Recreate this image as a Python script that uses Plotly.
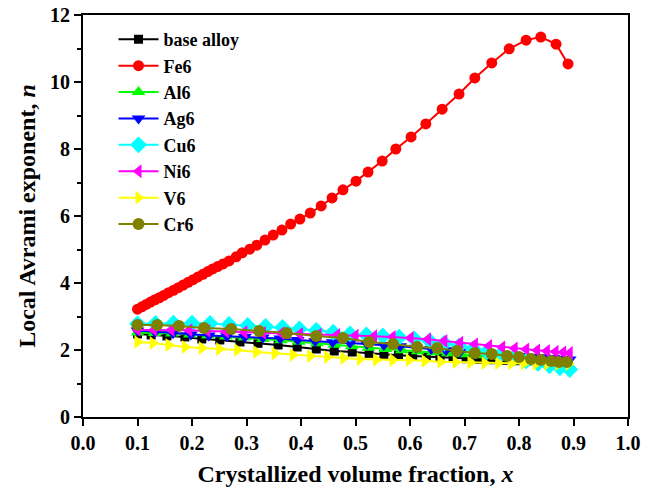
import plotly.graph_objects as go

# ---------------- data ----------------
fe6_x = [0.100, 0.108, 0.116, 0.124, 0.132, 0.140, 0.148, 0.157, 0.166, 0.175, 0.184, 0.193,
         0.202, 0.211, 0.220, 0.229, 0.238, 0.247, 0.257, 0.268, 0.281, 0.292, 0.306, 0.319,
         0.334, 0.349, 0.365, 0.381, 0.398, 0.417, 0.437, 0.457, 0.477, 0.501, 0.523, 0.549,
         0.574, 0.602, 0.629, 0.659, 0.690, 0.719, 0.750, 0.782, 0.813, 0.840, 0.868, 0.890]
fe6_y = [3.22, 3.29, 3.36, 3.43, 3.50, 3.56, 3.63, 3.71, 3.78, 3.86, 3.94, 4.02,
         4.10, 4.18, 4.26, 4.34, 4.42, 4.49, 4.57, 4.66, 4.78, 4.90, 5.01, 5.13,
         5.28, 5.43, 5.58, 5.76, 5.91, 6.09, 6.30, 6.54, 6.78, 7.04, 7.31, 7.64,
         8.00, 8.36, 8.75, 9.19, 9.64, 10.12, 10.57, 10.99, 11.25, 11.34, 11.13, 10.54]

base_x = [0.100, 0.125, 0.154, 0.187, 0.218, 0.251, 0.288, 0.321, 0.358, 0.393, 0.428, 0.461,
          0.494, 0.525, 0.552, 0.579, 0.605, 0.630, 0.655, 0.679, 0.703, 0.726, 0.749, 0.771,
          0.793, 0.814, 0.835, 0.855, 0.874, 0.890]
base_y = [2.48, 2.45, 2.42, 2.39, 2.33, 2.30, 2.24, 2.20, 2.15, 2.09, 2.03, 1.97,
          1.94, 1.90, 1.87, 1.84, 1.82, 1.80, 1.78, 1.76, 1.74, 1.72, 1.71, 1.69,
          1.68, 1.67, 1.66, 1.65, 1.64, 1.63]

al6_x = [0.100, 0.131, 0.163, 0.196, 0.229, 0.262, 0.296, 0.330, 0.363, 0.396, 0.429, 0.461,
         0.493, 0.524, 0.555, 0.585, 0.614, 0.642, 0.669, 0.695, 0.720, 0.744, 0.767, 0.789,
         0.810, 0.830, 0.849, 0.866, 0.881, 0.894]
al6_y = [2.52, 2.51, 2.49, 2.46, 2.43, 2.40, 2.37, 2.33, 2.29, 2.25, 2.20, 2.16,
         2.11, 2.07, 2.03, 1.99, 1.96, 1.93, 1.90, 1.87, 1.84, 1.82, 1.79, 1.76,
         1.72, 1.68, 1.64, 1.59, 1.55, 1.51]

ag6_x = [0.100, 0.132, 0.165, 0.198, 0.231, 0.264, 0.297, 0.330, 0.362, 0.394, 0.426, 0.458,
         0.490, 0.521, 0.552, 0.582, 0.611, 0.639, 0.666, 0.692, 0.717, 0.741, 0.764, 0.786,
         0.807, 0.827, 0.846, 0.863, 0.879, 0.893]
ag6_y = [2.58, 2.54, 2.50, 2.46, 2.43, 2.41, 2.39, 2.37, 2.34, 2.30, 2.26, 2.23,
         2.21, 2.18, 2.15, 2.11, 2.07, 2.03, 1.99, 1.95, 1.92, 1.89, 1.86, 1.84,
         1.82, 1.80, 1.78, 1.76, 1.74, 1.72]

cu6_x = [0.100, 0.133, 0.166, 0.200, 0.233, 0.268, 0.302, 0.335, 0.366, 0.397, 0.428, 0.459,
         0.490, 0.520, 0.550, 0.580, 0.608, 0.636, 0.663, 0.690, 0.716, 0.741, 0.766, 0.790,
         0.813, 0.835, 0.856, 0.875, 0.893]
cu6_y = [2.78, 2.79, 2.80, 2.80, 2.79, 2.76, 2.73, 2.70, 2.67, 2.63, 2.58, 2.53,
         2.48, 2.45, 2.42, 2.38, 2.33, 2.27, 2.20, 2.12, 2.04, 1.95, 1.86, 1.77,
         1.68, 1.60, 1.53, 1.47, 1.42]

ni6_x = [0.100, 0.130, 0.162, 0.195, 0.228, 0.262, 0.296, 0.330, 0.364, 0.398, 0.432, 0.466,
         0.500, 0.534, 0.568, 0.601, 0.633, 0.663, 0.692, 0.719, 0.745, 0.769, 0.792, 0.813,
         0.833, 0.851, 0.867, 0.881, 0.893]
ni6_y = [2.60, 2.60, 2.60, 2.59, 2.57, 2.55, 2.53, 2.51, 2.50, 2.48, 2.46, 2.45,
         2.43, 2.41, 2.39, 2.36, 2.32, 2.27, 2.22, 2.17, 2.12, 2.08, 2.05, 2.02,
         1.99, 1.97, 1.95, 1.93, 1.91]

v6_x = [0.100, 0.128, 0.157, 0.187, 0.218, 0.250, 0.283, 0.318, 0.352, 0.385, 0.417, 0.448,
        0.478, 0.508, 0.538, 0.568, 0.598, 0.627, 0.656, 0.684, 0.711, 0.737, 0.762, 0.786,
        0.809, 0.831, 0.852, 0.872, 0.891]
v6_y = [2.24, 2.21, 2.15, 2.09, 2.06, 2.03, 2.00, 1.94, 1.90, 1.85, 1.82, 1.79,
        1.76, 1.73, 1.71, 1.70, 1.70, 1.67, 1.65, 1.64, 1.63, 1.61, 1.61, 1.60,
        1.60, 1.59, 1.59, 1.58, 1.58]

cr6_x = [0.100, 0.136, 0.176, 0.222, 0.272, 0.323, 0.374, 0.428, 0.477, 0.525, 0.569, 0.613,
         0.650, 0.686, 0.719, 0.750, 0.778, 0.800, 0.822, 0.840, 0.859, 0.873, 0.888]
cr6_y = [2.75, 2.75, 2.72, 2.66, 2.63, 2.57, 2.51, 2.42, 2.36, 2.24, 2.18, 2.09,
         2.06, 1.97, 1.91, 1.88, 1.82, 1.79, 1.73, 1.70, 1.67, 1.64, 1.64]

series_names = ["base alloy", "Fe6", "Al6", "Ag6", "Cu6", "Ni6", "V6", "Cr6"]
x_ticks = [0.0, 0.1, 0.2, 0.3, 0.4, 0.5, 0.6, 0.7, 0.8, 0.9, 1.0]
y_ticks = [0, 2, 4, 6, 8, 10, 12]

# ---------------- styles ----------------
styles = [
    ("#000000", "square", 9),
    ("#ff0000", "circle", 11),
    ("#00ff00", "triangle-up", 12),
    ("#0000ff", "triangle-down", 12),
    ("#00ffff", "diamond", 13),
    ("#ff00ff", "triangle-left", 12),
    ("#ffff00", "triangle-right", 12),
    ("#808000", "circle", 12),
]
data = [(base_x, base_y), (fe6_x, fe6_y), (al6_x, al6_y), (ag6_x, ag6_y),
        (cu6_x, cu6_y), (ni6_x, ni6_y), (v6_x, v6_y), (cr6_x, cr6_y)]

FONT = "Liberation Serif, Times New Roman, serif"

fig = go.Figure()
for name, (xs, ys), (col, sym, sz) in zip(series_names, data, styles):
    fig.add_trace(go.Scatter(
        x=xs, y=ys, name="<b>" + name + "</b>", mode="lines+markers",
        line=dict(color=col, width=2),
        marker=dict(color=col, symbol=sym, size=sz, line=dict(width=0)),
    ))

fig.update_layout(
    width=648, height=490,
    margin=dict(l=83, r=20, t=15, b=73),
    paper_bgcolor="white", plot_bgcolor="white",
    font=dict(family=FONT, color="black", size=18),
    showlegend=True,
    legend=dict(
        x=0.056, y=0.985, xanchor="left", yanchor="top",
        bgcolor="rgba(0,0,0,0)", borderwidth=0,
        font=dict(family=FONT, size=18, color="black"),
        tracegroupgap=0, itemwidth=40,
    ),
    xaxis=dict(
        range=[0, 1.0], tickvals=x_ticks,
        ticktext=[f"<b>{v:.1f}</b>" for v in x_ticks],
        showgrid=False, zeroline=False, automargin=False,
        showline=True, linecolor="black", linewidth=2, mirror=True,
        ticks="outside", ticklen=7, tickwidth=2, tickcolor="black",
        ticklabeloverflow="allow",
        tickfont=dict(family=FONT, size=20),
        title=dict(text="<b>Crystallized volume fraction, <i>x</i></b>",
                   font=dict(family=FONT, size=24), standoff=12),
    ),
    yaxis=dict(
        range=[0, 12], tickvals=y_ticks,
        ticktext=[f"<b>{v}</b>" for v in y_ticks],
        showgrid=False, zeroline=False, automargin=False,
        showline=True, linecolor="black", linewidth=2, mirror=True,
        ticks="outside", ticklen=7, tickwidth=2, tickcolor="black",
        ticklabeloverflow="allow",
        minor=dict(dtick=1, ticks="outside", ticklen=4, tickwidth=1.5, tickcolor="black"),
        tickfont=dict(family=FONT, size=20),
        title=dict(text="<b>Local Avrami exponent, <i>n</i></b>",
                   font=dict(family=FONT, size=24), standoff=8),
    ),
)

# remove the default 8px page margin so the 648x490 figure fills the window exactly
fig.write_html("out.html", config={"displayModeBar": False},
               post_script="document.body.style.margin='0';")
